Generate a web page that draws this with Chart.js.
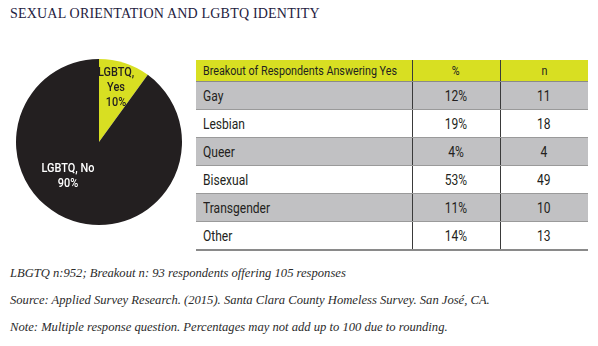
<!DOCTYPE html>
<html>
<head>
<meta charset="utf-8">
<script src="https://cdn.jsdelivr.net/npm/chart.js@4.4.0/dist/chart.umd.min.js"></script>
<style>
  html, body { margin: 0; padding: 0; background: #fff; }
  body { width: 598px; height: 346px; position: relative; overflow: hidden; }
  .title {
    position: absolute; left: 10px; top: 6px;
    font-family: "Liberation Serif", serif; font-size: 14px; color: #1e2140;
    letter-spacing: 0.2px; white-space: nowrap;
  }
  .pie-wrap { position: absolute; left: 14px; top: 57px; width: 170px; height: 170px; }
  table.breakout {
    position: absolute; left: 196px; top: 60px; width: 392px;
    border-collapse: collapse; table-layout: fixed;
    font-family: "Roboto", sans-serif; color: #231f20;
  }
  table.breakout th, table.breakout td { padding: 0 7px; white-space: nowrap; }
  table.breakout th {
    background: #d8df22; height: 21px; font-weight: normal; font-size: 12.5px;
    border-bottom: 1px solid #8a8a8a;
  }
  table.breakout td { height: 27px; font-size: 14px; border-bottom: 1px solid #9a9a9a; }
  table.breakout tr:nth-child(odd) td { background: #c1c1c3; }
  table.breakout tr:last-child td { border-bottom: 2px solid #8a8a8a; }
  table.breakout .num { text-align: center; border-left: 1px solid #3a3a3a; }
  table.breakout th:first-child, table.breakout td:first-child { text-align: left; }
  .c { display: inline-block; transform: scaleX(0.86); transform-origin: left center; }
  .num .c { transform-origin: center center; }
  .notes {
    position: absolute; left: 10px; top: 266px;
    font-family: "Liberation Serif", serif; font-style: italic; font-size: 12.6px; color: #2b2b2b;
  }
  .notes div { height: 27px; white-space: nowrap; }
</style>
</head>
<body>
<div class="title">SEXUAL ORIENTATION AND LGBTQ IDENTITY</div>
<div class="pie-wrap"><canvas id="pieChart"></canvas></div>
<table class="breakout" id="breakout">
  <colgroup><col style="width:216px"><col style="width:88px"><col style="width:88px"></colgroup>
  <thead><tr><th><span class="c">Breakout of Respondents Answering Yes</span></th><th class="num"><span class="c">%</span></th><th class="num"><span class="c">n</span></th></tr></thead>
  <tbody></tbody>
</table>
<div class="notes">
  <div>LBGTQ n:952; Breakout n: 93 respondents offering 105 responses</div>
  <div>Source: Applied Survey Research. (2015). Santa Clara County Homeless Survey. San José, CA.</div>
  <div>Note: Multiple response question. Percentages may not add up to 100 due to rounding.</div>
</div>
<script>
/* Data */
const pieLabels = [['LGBTQ,', 'Yes', '10%'], ['LGBTQ, No', '90%']];
const pieValues = [10, 90];
const breakoutCategories = ['Gay', 'Lesbian', 'Queer', 'Bisexual', 'Transgender', 'Other'];
const breakoutPct = ['12%', '19%', '4%', '53%', '11%', '14%'];
const breakoutN = [11, 18, 4, 49, 10, 13];

/* Breakout table */
const tbody = document.querySelector('#breakout tbody');
breakoutCategories.forEach((cat, i) => {
  const tr = document.createElement('tr');
  tr.innerHTML = `<td><span class="c">${cat}</span></td>` +
    `<td class="num"><span class="c">${breakoutPct[i]}</span></td>` +
    `<td class="num"><span class="c">${breakoutN[i]}</span></td>`;
  tbody.appendChild(tr);
});

/* Slice labels, placed relative to the pie centre, drawn condensed */
const sliceLabels = {
  id: 'sliceLabels',
  afterDatasetsDraw(chart, args, opts) {
    const ctx = chart.ctx;
    const meta = chart.getDatasetMeta(0);
    meta.data.forEach((arc, i) => {
      const lines = chart.data.labels[i];
      const [dx, dy] = opts.offsets[i];
      const y0 = arc.y + dy - ((lines.length - 1) * opts.lineHeight) / 2;
      ctx.save();
      ctx.translate(arc.x + dx, 0);
      ctx.scale(opts.squeeze, 1);
      ctx.font = opts.font;
      ctx.fillStyle = opts.colors[i];
      ctx.textAlign = 'center';
      ctx.textBaseline = 'middle';
      lines.forEach((l, j) => ctx.fillText(l, 0, y0 + j * opts.lineHeight));
      ctx.restore();
    });
  },
};

const ctxPie = document.getElementById('pieChart').getContext('2d');
const pieChart = new Chart(ctxPie, {
  type: 'pie',
  data: {
    labels: pieLabels,
    datasets: [
      {
        data: pieValues,
        backgroundColor: ['#d8df22', '#231f20'],
        borderWidth: 0,
      },
    ],
  },
  options: {
    responsive: true,
    maintainAspectRatio: true,
    animation: false,
    layout: { padding: 2 },
    plugins: {
      legend: { display: false },
      tooltip: { enabled: false },
      sliceLabels: {
        offsets: [[17, -54], [-31, 34]],
        colors: ['#231f20', '#ffffff'],
        font: '500 13px Roboto, sans-serif',
        squeeze: 0.84,
        lineHeight: 15,
      },
    },
  },
  plugins: [sliceLabels],
});
</script>
</body>
</html>
